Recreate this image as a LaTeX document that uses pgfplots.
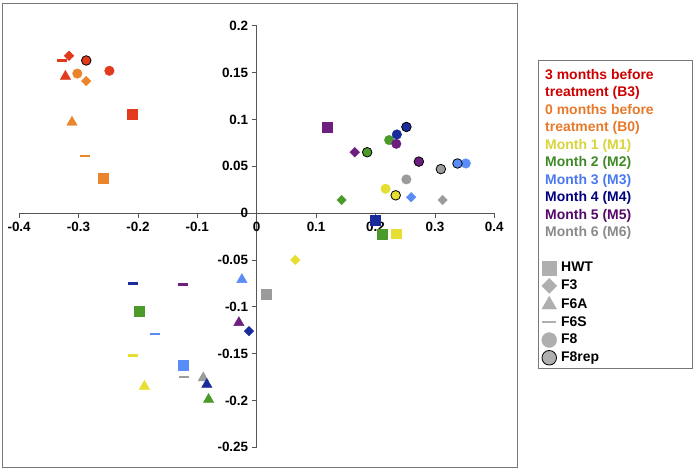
\documentclass[border=0pt]{standalone}
\usepackage{pgfplots}
\pgfplotsset{compat=1.18}
\usepackage{fontspec}
\setmainfont{Liberation Sans}

\definecolor{cB3}{HTML}{E23A1C}
\definecolor{cB0}{HTML}{EB852B}
\definecolor{cM1}{HTML}{E6DF32}
\definecolor{cM2}{HTML}{4C9A2A}
\definecolor{cM3}{HTML}{5A8CF7}
\definecolor{cM4}{HTML}{1A2C9C}
\definecolor{cM5}{HTML}{6C1F7E}
\definecolor{cM6}{HTML}{9B9B9B}
\definecolor{tB3}{HTML}{CC0000}
\definecolor{tB0}{HTML}{E8792B}
\definecolor{tM1}{HTML}{D8D43A}
\definecolor{tM2}{HTML}{3F8A26}
\definecolor{tM3}{HTML}{4A78F0}
\definecolor{tM4}{HTML}{00007F}
\definecolor{tM5}{HTML}{55086A}
\definecolor{tM6}{HTML}{8A8A8A}
\definecolor{lgray}{HTML}{AFAFAF}
\definecolor{axisgray}{HTML}{555555}
\definecolor{boxgray}{HTML}{777777}

\pgfplotsset{
  pHWT/.style={only marks, forget plot, mark=square*, mark size=5},
  pF3/.style={only marks, forget plot, mark=square*, mark size=3.4, mark options={rotate=45}},
  pF6A/.style={only marks, forget plot, mark=triangle*, mark size=6},
  pF6S/.style={only marks, forget plot, mark=-, mark size=5, mark options={line width=2.5bp}},
  pF8/.style={only marks, forget plot, mark=*, mark size=4.8},
  pF8r/.style={only marks, forget plot, mark=*, mark size=4.8, mark options={draw=black, line width=0.8bp}},
}

\begin{document}
\begin{tikzpicture}
\begin{axis}[
  scale only axis, width=475bp, height=421.2bp,
  xmin=-0.4, xmax=0.4, ymin=-0.25, ymax=0.2,
  axis lines=middle,
  axis line style={-, draw=axisgray, line width=0.8bp},
  clip=false,
  xtick={-0.4,-0.3,-0.2,-0.1,0,0.1,0.2,0.3,0.4},
  ytick={-0.25,-0.2,-0.15,-0.1,-0.05,0,0.05,0.1,0.15,0.2},
  tick align=outside, major tick length=5bp,
  tick style={draw=axisgray, line width=0.8bp},
  ticklabel style={font=\fontsize{13.5}{16}\selectfont\bfseries},
  /pgf/number format/assume math mode=true,
  /pgf/number format/fixed, /pgf/number format/precision=2,
  legend cell align=left,
  legend style={draw=none, fill=none, inner sep=0pt, row sep=3bp, column sep=0pt,
    at={(axis description cs:1.0973,0.8998)}, anchor=north west,
    font=\fontsize{14}{17}\selectfont\bfseries,
    nodes={inner xsep=4.5bp, inner ysep=0pt, text height=11bp, text depth=3.5bp}},
]
% frame and legend box
\draw[boxgray, line width=0.8bp] (axis cs:-0.4288,-0.2714) rectangle (axis cs:0.4382,0.2244);
\draw[boxgray, line width=0.8bp] (axis cs:0.4736,-0.1656) rectangle (axis cs:0.7328,0.1635);
\path (axis cs:-0.4322,-0.2746) rectangle (axis cs:0.7396,0.2276);
% origin tick labels
\node[anchor=north, yshift=-5bp, font=\fontsize{13.5}{16}\selectfont\bfseries] at (axis cs:0,0) {0};
\node[anchor=east, xshift=-5bp, font=\fontsize{13.5}{16}\selectfont\bfseries] at (axis cs:0,0) {0};

% B3
\addplot[pHWT, color=cB3] coordinates {(-0.210,0.106)};
\addplot[pF3, color=cB3] coordinates {(-0.316,0.168)};
\addplot[pF6A, color=cB3] coordinates {(-0.322,0.146)};
\addplot[pF6S, color=cB3] coordinates {(-0.328,0.163)};
\addplot[pF8, color=cB3] coordinates {(-0.248,0.152)};
\addplot[pF8r, color=cB3] coordinates {(-0.287,0.163)};
% B0
\addplot[pHWT, color=cB0] coordinates {(-0.259,0.037)};
\addplot[pF3, color=cB0] coordinates {(-0.287,0.141)};
\addplot[pF6A, color=cB0] coordinates {(-0.311,0.097)};
\addplot[pF6S, color=cB0] coordinates {(-0.289,0.061)};
\addplot[pF8, color=cB0] coordinates {(-0.302,0.149)};
% M1
\addplot[pHWT, color=cM1] coordinates {(0.235,-0.022)};
\addplot[pF3, color=cM1] coordinates {(0.065,-0.050)};
\addplot[pF6A, color=cM1] coordinates {(-0.189,-0.185)};
\addplot[pF6S, color=cM1] coordinates {(-0.209,-0.152)};
\addplot[pF8, color=cM1] coordinates {(0.217,0.026)};
\addplot[pF8r, color=cM1] coordinates {(0.234,0.019)};
% M2
\addplot[pHWT, color=cM2] coordinates {(0.212,-0.023) (-0.198,-0.105)};
\addplot[pF3, color=cM2] coordinates {(0.143,0.014)};
\addplot[pF6A, color=cM2] coordinates {(-0.081,-0.199)};
\addplot[pF8, color=cM2] coordinates {(0.223,0.078)};
\addplot[pF8r, color=cM2] coordinates {(0.186,0.065)};
% M3
\addplot[pHWT, color=cM3] coordinates {(-0.124,-0.162)};
\addplot[pF3, color=cM3] coordinates {(0.260,0.017)};
\addplot[pF6A, color=cM3] coordinates {(-0.025,-0.071)};
\addplot[pF6S, color=cM3] coordinates {(-0.172,-0.129)};
\addplot[pF8, color=cM3] coordinates {(0.352,0.053)};
\addplot[pF8r, color=cM3] coordinates {(0.338,0.053)};
% M6
\addplot[pHWT, color=cM6] coordinates {(0.016,-0.087)};
\addplot[pF3, color=cM6] coordinates {(0.313,0.014)};
\addplot[pF6A, color=cM6] coordinates {(-0.090,-0.176)};
\addplot[pF6S, color=cM6] coordinates {(-0.122,-0.175)};
\addplot[pF8, color=cM6] coordinates {(0.252,0.036)};
\addplot[pF8r, color=cM6] coordinates {(0.310,0.047)};
% M4
\addplot[pHWT, color=cM4] coordinates {(0.199,-0.008)};
\addplot[pF3, color=cM4] coordinates {(-0.013,-0.126)};
\addplot[pF6A, color=cM4] coordinates {(-0.084,-0.183)};
\addplot[pF6S, color=cM4] coordinates {(-0.209,-0.075)};
\addplot[pF8, color=cM4] coordinates {(0.236,0.084)};
\addplot[pF8r, color=cM4] coordinates {(0.252,0.092)};
% M5
\addplot[pHWT, color=cM5] coordinates {(0.118,0.092)};
\addplot[pF3, color=cM5] coordinates {(0.165,0.065)};
\addplot[pF6A, color=cM5] coordinates {(-0.030,-0.117)};
\addplot[pF6S, color=cM5] coordinates {(-0.124,-0.076)};
\addplot[pF8, color=cM5] coordinates {(0.235,0.074)};
\addplot[pF8r, color=cM5] coordinates {(0.273,0.055)};

% legend
\addlegendimage{empty legend}\addlegendentry{\hspace*{-16bp}\textcolor{tB3}{3 months before}}
\addlegendimage{empty legend}\addlegendentry{\hspace*{-16bp}\textcolor{tB3}{treatment (B3)}}
\addlegendimage{empty legend}\addlegendentry{\hspace*{-16bp}\textcolor{tB0}{0 months before}}
\addlegendimage{empty legend}\addlegendentry{\hspace*{-16bp}\textcolor{tB0}{treatment (B0)}}
\addlegendimage{empty legend}\addlegendentry{\hspace*{-16bp}\textcolor{tM1}{Month 1 (M1)}}
\addlegendimage{empty legend}\addlegendentry{\hspace*{-16bp}\textcolor{tM2}{Month 2 (M2)}}
\addlegendimage{empty legend}\addlegendentry{\hspace*{-16bp}\textcolor{tM3}{Month 3 (M3)}}
\addlegendimage{empty legend}\addlegendentry{\hspace*{-16bp}\textcolor{tM4}{Month 4 (M4)}}
\addlegendimage{empty legend}\addlegendentry{\hspace*{-16bp}\textcolor{tM5}{Month 5 (M5)}}
\addlegendimage{empty legend}\addlegendentry{\hspace*{-16bp}\textcolor{tM6}{Month 6 (M6)}}
\addlegendimage{empty legend}\addlegendentry{}
\addlegendimage{only marks, mark=square*, mark size=7.3, color=lgray}\addlegendentry{HWT}
\addlegendimage{only marks, mark=square*, mark size=5.3, mark options={rotate=45}, color=lgray}\addlegendentry{F3}
\addlegendimage{only marks, mark=triangle*, mark size=8.5, color=lgray}\addlegendentry{F6A}
\addlegendimage{only marks, mark=-, mark size=7, mark options={line width=2.2bp}, color=lgray}\addlegendentry{F6S}
\addlegendimage{only marks, mark=*, mark size=7.5, color=lgray}\addlegendentry{F8}
\addlegendimage{only marks, mark=*, mark size=7.3, color=lgray, mark options={draw=black, line width=0.8bp}}\addlegendentry{F8rep}
\end{axis}
\end{tikzpicture}
\end{document}
